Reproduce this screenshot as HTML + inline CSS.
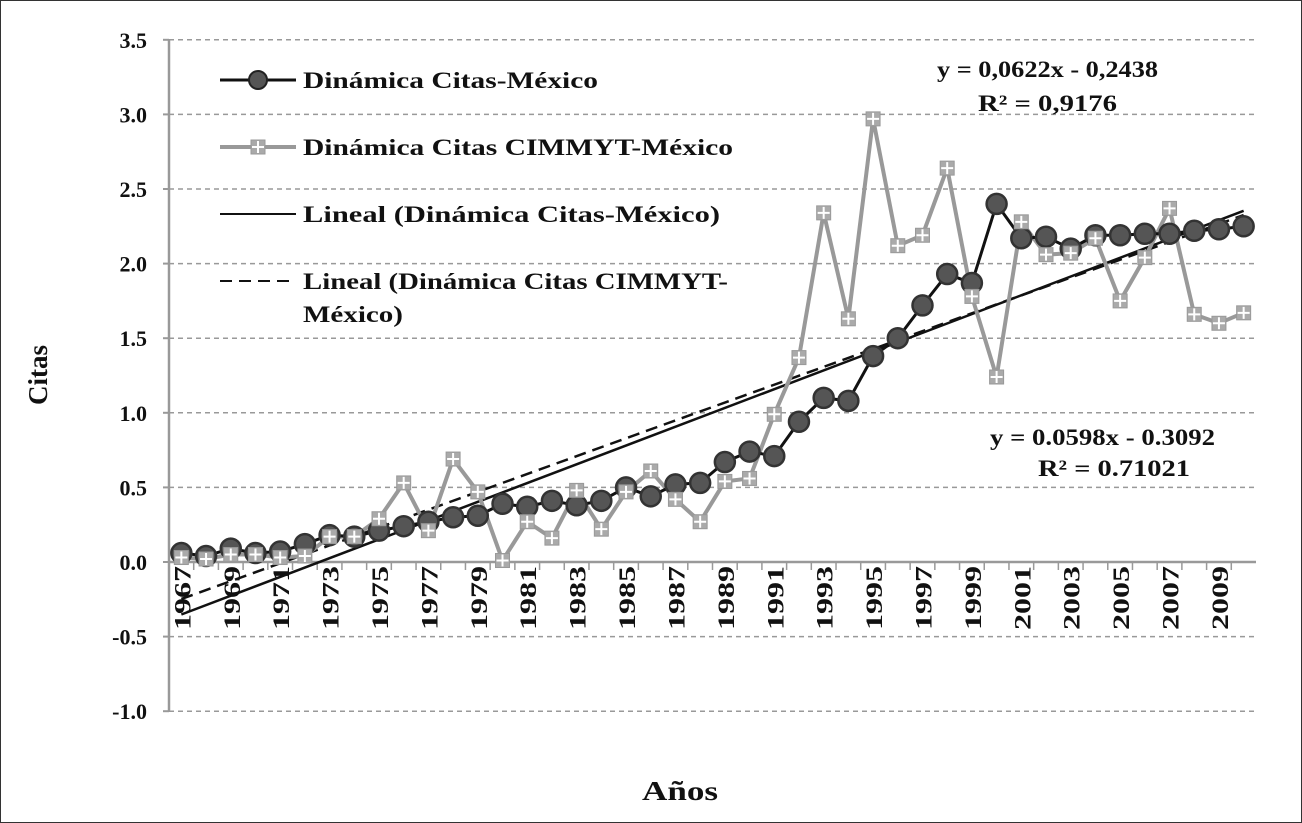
<!DOCTYPE html>
<html><head><meta charset="utf-8"><style>
body{margin:0;background:#fff}
svg{display:block}
text{font-family:"Liberation Serif",serif;font-weight:bold;fill:#111}
</style></head><body>
<svg id="c" width="1302" height="823">
<rect x="0.5" y="0.5" width="1301" height="822" fill="#fff" stroke="#333"/>
<g id="grid"></g><g id="axes"></g><g id="trend"></g><g id="series"></g>
<text x="47" y="375" font-size="27" text-anchor="middle" transform="rotate(-90 47 375)">Citas</text>
<text x="642" y="800" font-size="27" textLength="76" lengthAdjust="spacingAndGlyphs">Años</text>
<g font-size="23">
<g><line x1="220" y1="80" x2="296" y2="80" stroke="#111" stroke-width="3"/><circle cx="258" cy="80" r="9" fill="#555" stroke="#222" stroke-width="2"/><text x="303" y="88" textLength="295" lengthAdjust="spacingAndGlyphs">Dinámica Citas-México</text></g>
<g><line x1="220" y1="147" x2="296" y2="147" stroke="#999" stroke-width="4"/><rect x="251" y="140" width="14" height="14" fill="#aaa" stroke="#999"/><path d="M258 141V153M252 147H264" stroke="#fff" stroke-width="2"/><text x="303" y="155" textLength="430" lengthAdjust="spacingAndGlyphs">Dinámica Citas CIMMYT-México</text></g>
<g><line x1="220" y1="214" x2="296" y2="214" stroke="#111" stroke-width="2"/><text x="303" y="222" textLength="417" lengthAdjust="spacingAndGlyphs">Lineal (Dinámica Citas-México)</text></g>
<g><line x1="220" y1="281" x2="296" y2="281" stroke="#111" stroke-width="2" stroke-dasharray="12,7"/><text x="303" y="289" textLength="425" lengthAdjust="spacingAndGlyphs">Lineal (Dinámica Citas CIMMYT-</text><text x="303" y="322" textLength="100" lengthAdjust="spacingAndGlyphs">México)</text></g>
</g>
<text x="937" y="77" font-size="23" textLength="221" lengthAdjust="spacingAndGlyphs">y = 0,0622x - 0,2438</text>
<text x="978" y="111" font-size="23" textLength="139" lengthAdjust="spacingAndGlyphs">R² = 0,9176</text>
<text x="990" y="445" font-size="23" textLength="225" lengthAdjust="spacingAndGlyphs">y = 0.0598x - 0.3092</text>
<text x="1038" y="476" font-size="23" textLength="152" lengthAdjust="spacingAndGlyphs">R² = 0.71021</text>
</svg>
<script>
const years=[1967,1968,1969,1970,1971,1972,1973,1974,1975,1976,1977,1978,1979,1980,1981,1982,1983,1984,1985,1986,1987,1988,1989,1990,1991,1992,1993,1994,1995,1996,1997,1998,1999,2000,2001,2002,2003,2004,2005,2006,2007,2008,2009,2010];
const mexico=[.06,.04,.09,.06,.07,.12,.18,.17,.21,.24,.27,.30,.31,.39,.37,.41,.38,.41,.50,.44,.52,.53,.67,.74,.71,.94,1.10,1.08,1.38,1.50,1.72,1.93,1.87,2.40,2.17,2.18,2.10,2.19,2.19,2.20,2.20,2.22,2.23,2.25];
const cimmyt=[.03,.02,.05,.05,.03,.04,.17,.17,.29,.53,.21,.69,.47,.01,.27,.16,.48,.22,.47,.61,.42,.27,.54,.56,.99,1.37,2.34,1.63,2.97,2.12,2.19,2.64,1.78,1.24,2.28,2.06,2.07,2.17,1.75,2.04,2.37,1.66,1.60,1.67];
const yTicks=[-1,-0.5,0,0.5,1,1.5,2,2.5,3,3.5];
const NS='http://www.w3.org/2000/svg';
const L=169,R=1256,step=(R-L)/years.length;
const xs=i=>L+step*(i+0.5);
const ys=v=>562-v*149.2;
function mk(t,a,p){const e=document.createElementNS(NS,t);for(const k in a)e.setAttribute(k,a[k]);(p||document.getElementById('c')).appendChild(e);return e;}
const G=document.getElementById('grid'),A=document.getElementById('axes'),T=document.getElementById('trend'),S=document.getElementById('series');
yTicks.forEach(v=>{
 if(v!==0){const g=mk('line',{x1:L,x2:R,y1:ys(v),y2:ys(v),stroke:'#999','stroke-width':1.5,'stroke-dasharray':'5,4'},G);
 
 }
 const t=mk('text',{x:147,y:ys(v)+8,'font-size':22,'text-anchor':'end'},A);t.textContent=v.toFixed(1);
 
 
 mk('line',{x1:L-6,x2:L,y1:ys(v),y2:ys(v),stroke:'#999','stroke-width':2},A);
});
const ya=mk('line',{x1:L,x2:L,y1:ys(3.5),y2:ys(-1),stroke:'#999','stroke-width':2.5},A);


const xa=mk('line',{x1:L,x2:R,y1:ys(0),y2:ys(0),stroke:'#999','stroke-width':2.5},A);


years.forEach((y,i)=>{
 mk('line',{x1:L+step*i,x2:L+step*i,y1:ys(0),y2:ys(0)+8,stroke:'#999','stroke-width':1.5},A);
 if(i%2===0){const cx=xs(i)+9,cy=ys(0)+4;const t=mk('text',{x:cx,y:cy,'font-size':23,'text-anchor':'end',textLength:64,lengthAdjust:'spacingAndGlyphs',transform:`rotate(-90 ${cx} ${cy})`},A);t.textContent=y;
 
 }
});
function fit(d){const n=d.length;let sx=0,sy=0,sxy=0,sxx=0;d.forEach((v,i)=>{sx+=i;sy+=v;sxy+=i*v;sxx+=i*i});const b=(n*sxy-sx*sy)/(n*sxx-sx*sx);return [b,(sy-b*sx)/n];}
[[cimmyt,'12,7'],[mexico,'none']].forEach(([d,da])=>{const [b,a]=fit(d);const n=d.length-1;
 const l=mk('line',{x1:xs(0),y1:ys(a),x2:xs(n),y2:ys(a+b*n),stroke:'#111','stroke-width':2.5,'stroke-dasharray':da},T);
 
 });
const pc=mk('polyline',{points:cimmyt.map((v,i)=>xs(i)+','+ys(v)).join(' '),fill:'none',stroke:'#999','stroke-width':4},S);


const pm=mk('polyline',{points:mexico.map((v,i)=>xs(i)+','+ys(v)).join(' '),fill:'none',stroke:'#111','stroke-width':3},S);


mexico.forEach((v,i)=>{const c=mk('circle',{cx:xs(i),cy:ys(v),r:10,fill:'#555',stroke:'#333','stroke-width':2.5},S);
 
 });
cimmyt.forEach((v,i)=>{const x=xs(i),y=ys(v);const r=mk('rect',{x:x-7,y:y-7,width:14,height:14,fill:'#aaa',stroke:'#999'},S);
 
 
 mk('path',{d:`M${x} ${y-6}V${y+6}M${x-6} ${y}H${x+6}`,stroke:'#fff','stroke-width':2},S);});
</script>
</body></html>
